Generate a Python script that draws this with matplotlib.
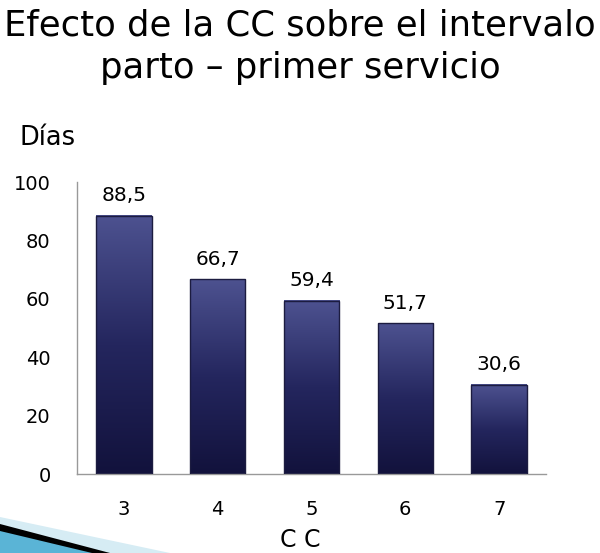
import matplotlib
matplotlib.use("Agg")
import matplotlib.pyplot as plt
import numpy as np
from matplotlib.patches import Polygon
from matplotlib.colors import LinearSegmentedColormap

categories = ["3", "4", "5", "6", "7"]
values = [88.5, 66.7, 59.4, 51.7, 30.6]
labels = ["88,5", "66,7", "59,4", "51,7", "30,6"]
yticks = [0, 20, 40, 60, 80, 100]

plt.rcParams['font.family'] = ['DejaVu Sans']
fig = plt.figure(figsize=(6.0, 5.53), dpi=100)
W, H = 600, 553
ax = fig.add_axes([77 / W, 1 - 474 / H, 469 / W, (474 - 182) / H])

x = np.arange(len(categories))
bw = 0.59
grad = np.linspace(0, 1, 256).reshape(-1, 1)
cmap = LinearSegmentedColormap.from_list("g", ["#12123c", "#24265e", "#4d5290"])
for xi, v in zip(x, values):
    ax.imshow(grad, extent=(xi - bw / 2, xi + bw / 2, 0, v), origin="lower",
              cmap=cmap, aspect="auto", zorder=2)
ax.bar(x, values, width=bw, facecolor="none", edgecolor="#1c1c40",
       linewidth=1.0, zorder=3)
for xi, v, lab in zip(x, values, labels):
    ax.text(xi, v + 3.5, lab, ha="center", va="bottom", fontsize=14.5, color="black")

ax.set_xlim(-0.5, len(categories) - 0.5)
ax.set_ylim(0, 100)
ax.set_xticks(x)
ax.set_xticklabels(categories, fontsize=14)
ax.set_yticks(yticks)
ax.set_yticklabels([str(t) for t in yticks], fontsize=14)
ax.tick_params(axis="both", length=0)
ax.tick_params(axis="x", pad=19)
ax.tick_params(axis="y", pad=19)
for s in ["top", "right"]:
    ax.spines[s].set_visible(False)
for s in ["left", "bottom"]:
    ax.spines[s].set_color("#999999")
    ax.spines[s].set_linewidth(1.0)

fig.text(0.5, 1 - 35 / H, "Efecto de la CC sobre el intervalo", ha="center",
         va="baseline", fontsize=25.5, color="black")
fig.text(0.5, 1 - 78 / H, "parto \u2013 primer servicio", ha="center",
         va="baseline", fontsize=25.5, color="black")
fig.text(20 / W, 1 - 145 / H, "Días", ha="left", va="baseline", fontsize=18.5)
fig.text(300 / W, 1 - 547 / H, "C C", ha="center", va="baseline", fontsize=17)

# decorative swoosh bottom-left
def px(pts):
    return [(a / W, 1 - b / H) for a, b in pts]
fig.patches.append(Polygon(px([(0, 517), (170, 553), (0, 553)]), closed=True,
                           transform=fig.transFigure, facecolor="#d6ecf4",
                           edgecolor="none"))
fig.patches.append(Polygon(px([(0, 530), (95, 553), (0, 553)]), closed=True,
                           transform=fig.transFigure, facecolor="#5ab4d6",
                           edgecolor="none"))
fig.patches.append(Polygon(px([(0, 524), (110, 553), (92, 553), (0, 531)]), closed=True,
                           transform=fig.transFigure, facecolor="black",
                           edgecolor="none"))

fig.savefig("out.png", dpi=100)
